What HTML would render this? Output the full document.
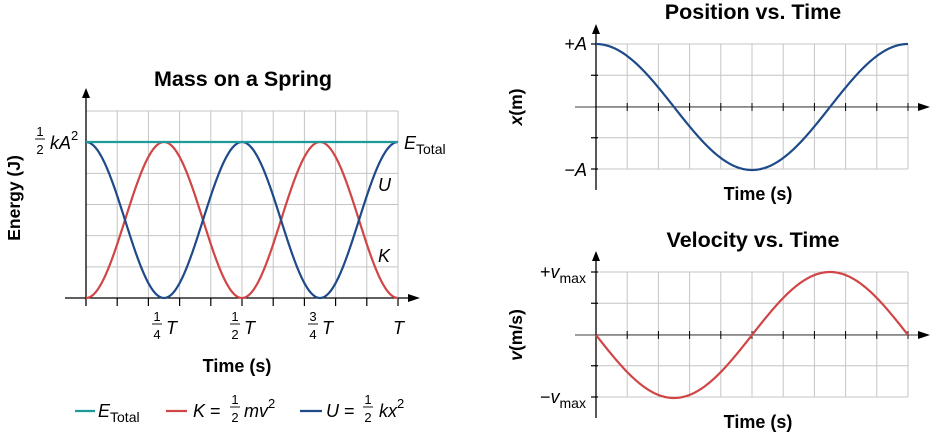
<!DOCTYPE html>
<html><head><meta charset="utf-8"><style>
html,body{margin:0;padding:0;background:#fff;}
svg{display:block;font-family:"Liberation Sans",sans-serif;}
</style></head><body>
<svg id="s" width="930" height="434" viewBox="0 0 930 434" xmlns="http://www.w3.org/2000/svg">
<g id="grid" stroke="#c4c4c4" stroke-width="1" fill="none"></g>
<g id="axes"></g>
<g id="curves" fill="none" stroke-width="2.2"></g>
<!-- Left chart text -->
<text x="243" y="86" font-size="21.5" font-weight="bold" text-anchor="middle">Mass on a Spring</text>
<text transform="translate(20,198) rotate(-90)" font-size="17.5" font-weight="bold" text-anchor="middle">Energy (J)</text>
<text x="237" y="372" font-size="18" font-weight="bold" text-anchor="middle">Time (s)</text>
<g font-size="13" text-anchor="middle">
<text x="40" y="136">1</text><line x1="35" y1="139" x2="45" y2="139" stroke="#000" stroke-width="0.9"/><text x="40" y="154">2</text>
</g>
<text x="50" y="149" font-size="18"><tspan font-style="italic">kA</tspan><tspan font-size="13" dy="-9">2</tspan></text>
<text x="404" y="149" font-size="18"><tspan font-style="italic">E</tspan><tspan font-size="14" dy="5">Total</tspan></text>
<text x="378" y="191" font-size="18" font-style="italic">U</text>
<text x="378" y="262" font-size="18" font-style="italic">K</text>
<g font-size="13" text-anchor="middle">
<text x="157" y="321">1</text><line x1="152" y1="324" x2="162" y2="324" stroke="#000" stroke-width="0.9"/><text x="157" y="339">4</text>
<text x="235" y="321">1</text><line x1="230" y1="324" x2="240" y2="324" stroke="#000" stroke-width="0.9"/><text x="235" y="339">2</text>
<text x="313" y="321">3</text><line x1="308" y1="324" x2="318" y2="324" stroke="#000" stroke-width="0.9"/><text x="313" y="339">4</text>
</g>
<g font-size="18" font-style="italic">
<text x="166" y="334">T</text><text x="244" y="334">T</text><text x="322" y="334">T</text><text x="393" y="334">T</text>
</g>
<!-- legend -->
<line x1="75" y1="411" x2="95" y2="411" stroke="#1e9a9a" stroke-width="2.2"/>
<text x="98" y="417" font-size="18"><tspan font-style="italic">E</tspan><tspan font-size="14" dy="5">Total</tspan></text>
<line x1="166" y1="411" x2="187" y2="411" stroke="#d04545" stroke-width="2.2"/>
<text x="193" y="417" font-size="18"><tspan font-style="italic">K</tspan> =</text>
<text x="235" y="404" font-size="13" text-anchor="middle">1</text><line x1="230" y1="407" x2="240" y2="407" stroke="#000" stroke-width="0.9"/><text x="235" y="422" font-size="13" text-anchor="middle">2</text>
<text x="244" y="417" font-size="18"><tspan font-style="italic">mv</tspan><tspan font-size="13" dy="-9">2</tspan></text>
<line x1="300" y1="411" x2="322" y2="411" stroke="#1e4a8a" stroke-width="2.2"/>
<text x="326" y="417" font-size="18"><tspan font-style="italic">U</tspan> =</text>
<text x="368" y="404" font-size="13" text-anchor="middle">1</text><line x1="363" y1="407" x2="373" y2="407" stroke="#000" stroke-width="0.9"/><text x="368" y="422" font-size="13" text-anchor="middle">2</text>
<text x="379" y="417" font-size="18"><tspan font-style="italic">kx</tspan><tspan font-size="13" dy="-9">2</tspan></text>
<!-- Right chart text -->
<text x="753" y="19" font-size="21.5" font-weight="bold" text-anchor="middle">Position vs. Time</text>
<text transform="translate(522,107) rotate(-90)" font-size="17.5" font-weight="bold" text-anchor="middle"><tspan font-style="italic">x</tspan>(m)</text>
<text x="758" y="200" font-size="18" font-weight="bold" text-anchor="middle">Time (s)</text>
<text x="587" y="50" font-size="18" text-anchor="end">+<tspan font-style="italic">A</tspan></text>
<text x="587" y="176" font-size="18" text-anchor="end">−<tspan font-style="italic">A</tspan></text>
<text x="753" y="247" font-size="21.5" font-weight="bold" text-anchor="middle">Velocity vs. Time</text>
<text transform="translate(522,335) rotate(-90)" font-size="17.5" font-weight="bold" text-anchor="middle"><tspan font-style="italic">v</tspan>(m/s)</text>
<text x="758" y="428" font-size="18" font-weight="bold" text-anchor="middle">Time (s)</text>
<text x="540" y="278" font-size="18">+<tspan font-style="italic">v</tspan><tspan font-size="14" dy="5">max</tspan></text>
<text x="540" y="403" font-size="18">−<tspan font-style="italic">v</tspan><tspan font-size="14" dy="5">max</tspan></text>
</svg>
<script>
var NS="http://www.w3.org/2000/svg";
function el(p,t,a){var e=document.createElementNS(NS,t);for(var k in a)e.setAttribute(k,a[k]);document.getElementById(p).appendChild(e);return e;}
function path(f,x0,x1,n){var d="";for(var i=0;i<=n;i++){var t=i/n;var xy=f(t);d+=(i?"L":"M")+(x0+(x1-x0)*t).toFixed(2)+","+xy.toFixed(2);}return d;}
(function(){
var L=86,R=398,T=111,B=298,st=(R-L)/10;
for(var i=1;i<=10;i++)el("grid","line",{x1:L+i*st,y1:T,x2:L+i*st,y2:B});
for(var j=0;j<6;j++)el("grid","line",{x1:L,y1:T+j*31.17,x2:R,y2:T+j*31.17});
el("axes","line",{x1:L,y1:96,x2:L,y2:306,stroke:"#000","stroke-width":1.3});
el("axes","path",{d:"M86,88 L82,98 L90,98Z",fill:"#000"});
el("axes","line",{x1:65,y1:B,x2:410,y2:B,stroke:"#000","stroke-width":1.3});
el("axes","path",{d:"M420,298 L408,294 L408,302Z",fill:"#000"});
for(var i=1;i<=10;i++)el("axes","line",{x1:L+i*st,y1:B,x2:L+i*st,y2:306,stroke:"#000","stroke-width":1.2});
var yTop=142,amp=B-yTop;
el("curves","path",{d:path(function(t){return B-amp*Math.pow(Math.sin(2*Math.PI*t),2)},L,R,300),stroke:"#d04545"});
el("curves","path",{d:path(function(t){return B-amp*Math.pow(Math.cos(2*Math.PI*t),2)},L,R,300),stroke:"#1e4a8a"});
el("curves","line",{x1:L,y1:yTop,x2:R,y2:yTop,stroke:"#1e9a9a"});
function rc(t0,z,b,ya,yb,fn,col){
 var l=596,r=908,s=(r-l)/10,h=(b-t0)/4;
 for(var i=1;i<=10;i++)el("grid","line",{x1:l+i*s,y1:t0,x2:l+i*s,y2:b});
 for(var j=0;j<5;j++)el("grid","line",{x1:l,y1:t0+j*h,x2:r,y2:t0+j*h});
 el("axes","line",{x1:575,y1:z,x2:920,y2:z,stroke:"#666","stroke-width":1.3});
 el("axes","path",{d:"M930,"+z+" L918,"+(z-4)+" L918,"+(z+4)+"Z",fill:"#000"});
 for(var i=1;i<=10;i++)el("axes","line",{x1:l+i*s,y1:z-4,x2:l+i*s,y2:z+4,stroke:"#000","stroke-width":1});
 el("axes","line",{x1:l,y1:ya+8,x2:l,y2:yb,stroke:"#000","stroke-width":1.3});
 el("axes","path",{d:"M"+l+","+ya+" L"+(l-4)+","+(ya+10)+" L"+(l+4)+","+(ya+10)+"Z",fill:"#000"});
 for(var j=0;j<5;j++)if(j!=2)el("axes","line",{x1:l-5,y1:t0+j*h,x2:l+2,y2:t0+j*h,stroke:"#000","stroke-width":1.2});
 el("curves","path",{d:path(function(t){return z-(z-t0)*fn(t)},l,r,300),stroke:col});
}
rc(44,107,169,24,190,function(t){return Math.cos(2*Math.PI*t)},"#1e4a8a");
rc(272,335,397,251,418,function(t){return -Math.sin(2*Math.PI*t)},"#d04545");
})();
</script>
</body></html>
